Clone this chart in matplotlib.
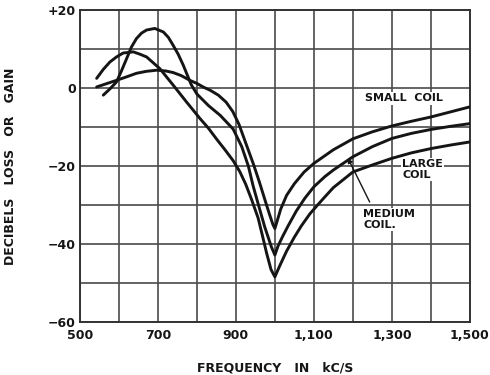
import matplotlib
matplotlib.use("Agg")
import matplotlib.pyplot as plt

plt.rcParams['font.family'] = ['DejaVu Sans']

# frequency (kc/s) and response (db)
small_f = [543, 570, 594, 620, 645, 670, 697, 720, 739, 760, 782, 800, 816, 835,
           855, 875, 892, 908, 925, 945, 960, 974, 985, 995, 1000,
           1006, 1015, 1030, 1050, 1075, 1100, 1150, 1200, 1250, 1300, 1350,
           1400, 1450, 1500]
small_db = [0.3, 1.2, 2.0, 2.9, 3.8, 4.3, 4.6, 4.4, 4.0, 3.2, 2.0, 1.2, 0.3, -0.6,
            -1.8, -3.6, -6.0, -9.3, -14, -19.5, -24, -28.5, -32, -35, -36,
            -34, -31, -27.5, -24.5, -21.5, -19.3, -15.8, -13.0, -11.2, -9.7, -8.5,
            -7.4, -6.1, -4.8]

medium_f = [560, 577, 594, 607, 620, 632, 645, 658, 671, 692, 714, 727, 739, 752,
            765, 776, 786, 800, 830, 860, 893, 915, 932, 944, 958, 974, 991, 1000,
            1008, 1020, 1034, 1055, 1077, 1100, 1128, 1150, 1200, 1250, 1300, 1350,
            1400, 1450, 1500]
medium_db = [-1.8, -0.2, 1.6, 4.5, 7.6, 10.5, 12.7, 14.1, 14.9, 15.3, 14.4, 13.0, 11.0, 8.7,
             5.9, 3.2, 0.8, -1.5, -4.5, -7.0, -10.5, -15, -20, -25, -30, -35.6, -40.7, -42.8,
             -40.5, -38, -35.3, -31.5, -28.2, -25.3, -22.7, -21.0, -17.6, -15.0, -12.9, -11.6,
             -10.6, -9.8, -9.1]

large_f = [543, 560, 577, 594, 611, 637, 654, 671, 705, 739, 773, 808, 829, 850,
           872, 893, 910, 925, 940, 957, 968, 979, 990, 1000,
           1006, 1015, 1030, 1050, 1068, 1090, 1111, 1128, 1150, 1200, 1250, 1300,
           1350, 1400, 1450, 1500]
large_db = [2.5, 4.8, 6.7, 8.0, 9.0, 9.3, 8.7, 8.0, 5.0, 0.8, -3.5, -7.8, -10.2, -13,
            -15.8, -18.6, -21.4, -24.6, -28.5, -33.3, -37.8, -42.4, -46.5, -48.4,
            -47, -45, -41.8, -38.2, -35.3, -32.2, -29.8, -27.9, -25.5, -21.5, -19.7, -18.0,
            -16.6, -15.5, -14.6, -13.8]

x_ticks = list(range(500, 1501, 100))
x_labels = ['500', '', '700', '', '900', '', '1,100', '', '1,300', '', '1,500']
y_ticks = list(range(-60, 21, 10))
y_labels = ['\u221260', '', '\u221240', '', '\u221220', '', '0', '', '+20']

fig = plt.figure(figsize=(4.9, 3.75), dpi=100)
ax = fig.add_axes([0.163, 0.141, 0.796, 0.832])

ink = '#151515'
for f, db in [(small_f, small_db), (medium_f, medium_db), (large_f, large_db)]:
    ax.plot(f, db, color=ink, lw=2.1, solid_capstyle='round',
            solid_joinstyle='round', zorder=3)

ax.set_xlim(500, 1500)
ax.set_ylim(-60, 20)
ax.set_xticks(x_ticks)
ax.set_xticklabels(x_labels, fontsize=9, fontweight='bold')
ax.set_yticks(y_ticks)
ax.set_yticklabels(y_labels, fontsize=9, fontweight='bold')
ax.tick_params(length=0, pad=3, colors=ink)
ax.tick_params(axis='x', pad=5)
ax.grid(True, color='#4a4a4a', lw=1.2)
ax.set_axisbelow(True)
for s in ax.spines.values():
    s.set_color('#333333')
    s.set_linewidth(1.4)

ax.set_xlabel('FREQUENCY   IN   kC/S', fontsize=9, fontweight='bold',
              color=ink, labelpad=14)
ax.set_ylabel('DECIBELS   LOSS   OR   GAIN', fontsize=9, fontweight='bold',
              color=ink, labelpad=22)

box = dict(facecolor='white', edgecolor='none', pad=1.0)
ax.text(1331, -2.6, 'SMALL  COIL', fontsize=8, fontweight='bold', ha='center',
        va='center', color=ink, bbox=box, zorder=4)
ax.text(1326, -20.9, 'LARGE\nCOIL', fontsize=8, fontweight='bold', ha='left',
        va='center', color=ink, bbox=box, linespacing=1.1, zorder=4)
ax.text(1226, -33.7, 'MEDIUM\nCOIL.', fontsize=8, fontweight='bold', ha='left',
        va='center', color=ink, bbox=box, linespacing=1.1, zorder=4)
ax.annotate('', xy=(1187, -17.9), xytext=(1243, -29.2),
            arrowprops=dict(arrowstyle='-|>', color=ink, lw=1.0,
                            mutation_scale=7, shrinkA=0, shrinkB=0), zorder=5)

fig.savefig('out.png', dpi=100, facecolor='white')
